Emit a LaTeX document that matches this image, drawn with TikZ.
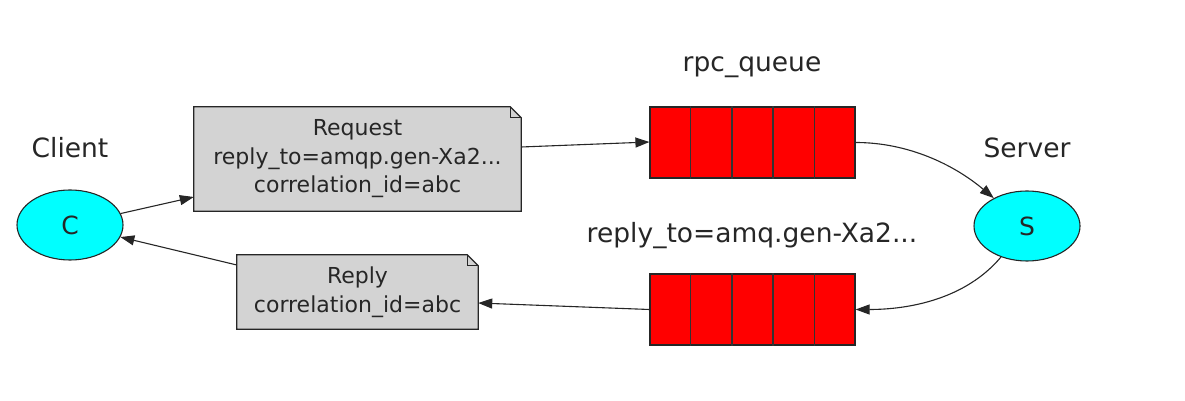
\documentclass[tikz,border=0pt]{standalone}
\usepackage{fontspec}
\setmainfont{DejaVu Sans}
\usetikzlibrary{arrows.meta,shapes.geometric,backgrounds,calc}
\definecolor{gvcyan}{HTML}{00FFFF}
\definecolor{gvred}{HTML}{FF0000}
\definecolor{gvgray}{HTML}{D3D3D3}
\begin{document}
\begin{tikzpicture}[x=1pt,y=1pt,
  every node/.style={text=black!85},
  proc/.style={ellipse,draw=black!85,line width=1.1pt,fill=gvcyan,minimum width=106pt,minimum height=70pt,inner sep=0pt,font=\fontsize{25}{30}\selectfont},
  notebox/.style={rectangle,inner sep=0pt,align=center,font=\fontsize{22}{28.5}\selectfont},
  queuebox/.style={rectangle,draw=black!85,line width=1.2pt,fill=gvred,minimum width=205pt,minimum height=71pt,inner sep=0pt},
  edge/.style={line width=1.1pt,draw=black!85,-{Triangle[length=14pt,width=10pt]}},
  lbl/.style={inner sep=0pt,font=\fontsize{26.5}{30}\selectfont}
]
\useasboundingbox (0,0) rectangle (1185,401);

% processes
\node[proc] (C) at (70,176) {C};
\node[lbl] (clientlbl) at (70,253) {Client};
\node[proc] (S) at (1027,175) {S};
\node[lbl] (serverlbl) at (1027,253) {Server};

% notes
\node[notebox,minimum width=327pt,minimum height=104pt] (req) at (357.5,242)
  {Request\\reply\_to=amqp.gen-Xa2...\\correlation\_id=abc};
\node[notebox,minimum width=241pt,minimum height=74pt] (rep) at (357.5,109)
  {Reply\\correlation\_id=abc};
\begin{scope}[on background layer]
  \foreach \n in {req,rep}{
    \draw[line width=1.2pt,draw=black!85,fill=gvgray]
      (\n.south west) -- (\n.north west) -- ([xshift=-11pt]\n.north east)
      -- ([yshift=-11pt]\n.north east) -- (\n.south east) -- cycle;
    \draw[line width=0.8pt,draw=black!85]
      ([xshift=-11pt]\n.north east) -- ([xshift=-11pt,yshift=-11pt]\n.north east)
      -- ([yshift=-11pt]\n.north east);
  }
\end{scope}

% queues
\node[queuebox] (q1) at (752.5,258.5) {};
\node[lbl] (q1lbl) at (752,334) {rpc\_queue};
\node[queuebox] (q2) at (752.5,91.5) {};
\node[lbl] (q2lbl) at (752,165) {reply\_to=amq.gen-Xa2...};
\foreach \q in {q1,q2}{
  \foreach \i in {1,2,3,4}{
    \draw[line width=1.3pt,draw=black!80]
      ($(\q.north west)!\i/5!(\q.north east)$) -- ($(\q.south west)!\i/5!(\q.south east)$);
  }
}

% edges
\draw[edge] (C) -- ([yshift=-38pt]req.west);
\draw[edge] ([yshift=12pt]req.east) -- ([yshift=0.5pt]q1.west);
\draw[edge] (q1.east) to[out=0,in=140,looseness=0.9] (S);
\draw[edge] (S) to[out=-130,in=0,looseness=0.9] (q2.east);
\draw[edge] (q2.west) -- ([yshift=-11pt]rep.east);
\draw[edge] ([yshift=27pt]rep.west) -- (C);
\end{tikzpicture}
\end{document}
